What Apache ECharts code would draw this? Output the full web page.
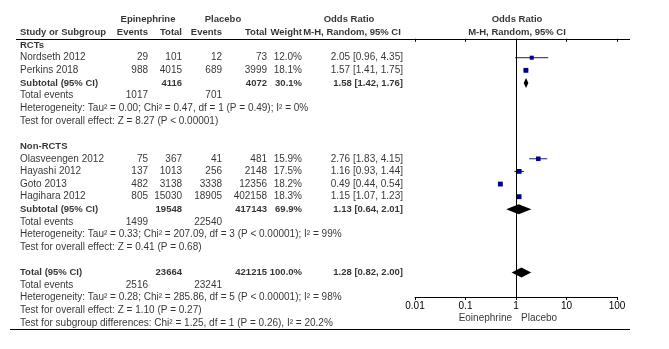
<!DOCTYPE html>
<html>
<head>
<meta charset="utf-8">
<script src="https://cdn.jsdelivr.net/npm/echarts@6/dist/echarts.min.js"></script>
<style>
  html, body { margin: 0; padding: 0; background: #fff; }
  #chart { width: 669px; height: 349px; }
</style>
</head>
<body>
<div id="chart"></div>
<script>
// Study data
const studies = ['Nordseth 2012', 'Perkins 2018', 'Olasveengen 2012', 'Hayashi 2012', 'Goto 2013', 'Hagihara 2012'];
const studyGroup = [0, 0, 1, 1, 1, 1];
const epiEvents = [29, 988, 75, 137, 482, 805];
const epiTotal = [101, 4015, 367, 1013, 3138, 15030];
const plaEvents = [12, 689, 41, 256, 3338, 18905];
const plaTotal = [73, 3999, 481, 2148, 12356, 402158];
const weights = [12.0, 18.1, 15.9, 17.5, 18.2, 18.3];
const orEst = [2.05, 1.57, 2.76, 1.16, 0.49, 1.15];
const orLow = [0.96, 1.41, 1.83, 0.93, 0.44, 1.07];
const orHigh = [4.35, 1.75, 4.15, 1.44, 0.54, 1.23];

// Subgroups
const groups = ['RCTs', 'Non-RCTS'];
const groupEpiTotal = [4116, 19548];
const groupPlaTotal = [4072, 417143];
const groupWeight = [30.1, 69.9];
const groupEst = [1.58, 1.13];
const groupLow = [1.42, 0.64];
const groupHigh = [1.76, 2.01];
const groupEpiEvents = [1017, 1499];
const groupPlaEvents = [701, 22540];
const groupHet = [
  'Heterogeneity: Tau² = 0.00; Chi² = 0.47, df = 1 (P = 0.49); I² = 0%',
  'Heterogeneity: Tau² = 0.33; Chi² = 207.09, df = 3 (P < 0.00001); I² = 99%'
];
const groupTest = [
  'Test for overall effect: Z = 8.27 (P < 0.00001)',
  'Test for overall effect: Z = 0.41 (P = 0.68)'
];

// Overall
const totalEpi = 23664;
const totalPla = 421215;
const totalWeight = 100.0;
const totalEst = 1.28, totalLow = 0.82, totalHigh = 2.00;
const totalEpiEvents = 2516;
const totalPlaEvents = 23241;
const totalHet = 'Heterogeneity: Tau² = 0.28; Chi² = 285.86, df = 5 (P < 0.00001); I² = 98%';
const totalTest = 'Test for overall effect: Z = 1.10 (P = 0.27)';
const subgroupTest = 'Test for subgroup differences: Chi² = 1.25, df = 1 (P = 0.26), I² = 20.2%';

// Axis ticks
const axisTicks = [0.01, 0.1, 1, 10, 100];
const favourLabels = ['Eoinephrine', 'Placebo'];

// Layout
const ROWS = 25;
const ROW_H = 12.633;
const TOP = 13.5;
const AXIS_Y = 297;
const COL = { name: 20, e1: 148, t1: 182, e2: 222, t2: 267, w: 302, or: 403, orHead: 352, plot: 517 };
const FONT = 'Liberation Sans, Arial, sans-serif';
const FS = 10;      // regular text
const FS_B = 9.5;   // bold text

const cells = [];
function cell(x, row, text, align, bold) {
  cells.push({
    value: [x, row, String(text)],
    label: { align: align, fontWeight: bold ? 'bold' : 'normal', fontSize: bold ? FS_B : FS }
  });
}
const fmtOR = (e, l, h) => `${e.toFixed(2)} [${l.toFixed(2)}, ${h.toFixed(2)}]`;

// Header
cell(COL.e1, 0, 'Epinephrine', 'center', true);
cell(COL.e2 + 1, 0, 'Placebo', 'center', true);
cell(COL.orHead - 3, 0, 'Odds Ratio', 'center', true);
cell(COL.plot, 0, 'Odds Ratio', 'center', true);
cell(COL.name, 1, 'Study or Subgroup', 'left', true);
cell(COL.e1, 1, 'Events', 'right', true);
cell(COL.t1, 1, 'Total', 'right', true);
cell(COL.e2, 1, 'Events', 'right', true);
cell(COL.t2, 1, 'Total', 'right', true);
cell(COL.w, 1, 'Weight', 'right', true);
cell(COL.orHead, 1, 'M-H, Random, 95% CI', 'center', true);
cell(COL.plot, 1, 'M-H, Random, 95% CI', 'center', true);

const studyMarks = [];
const diamonds = [];
let r = 2;
groups.forEach((g, gi) => {
  cell(COL.name, r, g, 'left', true); r++;
  studies.forEach((s, i) => {
    if (studyGroup[i] !== gi) return;
    cell(COL.name, r, s, 'left', false);
    cell(COL.e1, r, epiEvents[i], 'right', false);
    cell(COL.t1, r, epiTotal[i], 'right', false);
    cell(COL.e2, r, plaEvents[i], 'right', false);
    cell(COL.t2, r, plaTotal[i], 'right', false);
    cell(COL.w, r, weights[i].toFixed(1) + '%', 'right', false);
    cell(COL.or, r, fmtOR(orEst[i], orLow[i], orHigh[i]), 'right', false);
    studyMarks.push([orEst[i], orLow[i], orHigh[i], r, weights[i]]);
    r++;
  });
  cell(COL.name, r, 'Subtotal (95% CI)', 'left', true);
  cell(COL.t1, r, groupEpiTotal[gi], 'right', true);
  cell(COL.t2, r, groupPlaTotal[gi], 'right', true);
  cell(COL.w, r, groupWeight[gi].toFixed(1) + '%', 'right', true);
  cell(COL.or, r, fmtOR(groupEst[gi], groupLow[gi], groupHigh[gi]), 'right', true);
  diamonds.push([groupEst[gi], groupLow[gi], groupHigh[gi], r]);
  r++;
  cell(COL.name, r, 'Total events', 'left', false);
  cell(COL.e1, r, groupEpiEvents[gi], 'right', false);
  cell(COL.e2, r, groupPlaEvents[gi], 'right', false);
  r++;
  cell(COL.name, r, groupHet[gi], 'left', false); r++;
  cell(COL.name, r, groupTest[gi], 'left', false); r++;
  r++;
});
cell(COL.name, r, 'Total (95% CI)', 'left', true);
cell(COL.t1, r, totalEpi, 'right', true);
cell(COL.t2, r, totalPla, 'right', true);
cell(COL.w, r, totalWeight.toFixed(1) + '%', 'right', true);
cell(COL.or, r, fmtOR(totalEst, totalLow, totalHigh), 'right', true);
diamonds.push([totalEst, totalLow, totalHigh, r]);
r++;
cell(COL.name, r, 'Total events', 'left', false);
cell(COL.e1, r, totalEpiEvents, 'right', false);
cell(COL.e2, r, totalPlaEvents, 'right', false);
r++;
cell(COL.name, r, totalHet, 'left', false); r++;
cell(COL.name, r, totalTest, 'left', false); r++;
cell(COL.name, r, subgroupTest, 'left', false); r++;
// favours labels under the axis
cell(COL.plot - 5, r - 1.4, favourLabels[0], 'right', false);
cell(COL.plot + 4, r - 1.4, favourLabels[1], 'left', false);

const plotTop = TOP + 2 * ROW_H;
const plotH = AXIS_Y - plotTop;
const plotMaxRow = 1.5 + plotH / ROW_H;

const chart = echarts.init(document.getElementById('chart'), null, { renderer: 'canvas' });

chart.setOption({
  animation: false,
  backgroundColor: '#fff',
  textStyle: { fontFamily: FONT },
  grid: [
    { left: 0, top: TOP, width: 669, height: ROWS * ROW_H },
    { left: 415, top: plotTop, width: 202, height: plotH }
  ],
  xAxis: [
    { gridIndex: 0, type: 'value', min: 0, max: 669, show: false },
    {
      gridIndex: 1, type: 'log', logBase: 10, min: axisTicks[0], max: axisTicks[axisTicks.length - 1],
      axisLine: { show: true, lineStyle: { color: '#000', width: 1 } },
      axisTick: { show: true, length: 3, lineStyle: { color: '#000' } },
      axisLabel: { show: true, color: '#000', fontSize: FS, fontFamily: FONT, margin: 4 },
      splitLine: { show: false },
      minorTick: { show: false }
    },
    {
      gridIndex: 1, type: 'log', logBase: 10, min: axisTicks[0], max: axisTicks[axisTicks.length - 1],
      axisLine: { show: false },
      axisTick: { show: true, inside: true, length: 3, lineStyle: { color: '#000' } },
      axisLabel: { show: false },
      splitLine: { show: false }
    }
  ],
  yAxis: [
    { gridIndex: 0, type: 'value', min: -0.5, max: ROWS - 0.5, inverse: true, show: false },
    { gridIndex: 1, type: 'value', min: 1.5, max: plotMaxRow, inverse: true, show: false }
  ],
  series: [
    {
      type: 'scatter',
      xAxisIndex: 0, yAxisIndex: 0,
      symbolSize: 0,
      silent: true,
      data: cells,
      label: {
        show: true,
        position: 'inside',
        formatter: (p) => p.value[2],
        color: '#000',
        fontSize: FS,
        fontFamily: FONT
      },
      markLine: {
        silent: true,
        symbol: 'none',
        label: { show: false },
        lineStyle: { color: '#000', width: 1, type: 'solid' },
        data: [
          [{ coord: [16, 1.5] }, { coord: [630, 1.5] }],
          [{ coord: [10, ROWS - 0.5] }, { coord: [630, ROWS - 0.5] }]
        ]
      }
    },
    {
      // study confidence intervals and weighted squares
      type: 'custom',
      xAxisIndex: 1, yAxisIndex: 1,
      silent: true,
      data: studyMarks,
      renderItem: (params, api) => {
        const est = api.value(0), lo = api.value(1), hi = api.value(2), row = api.value(3), w = api.value(4);
        const pLo = api.coord([lo, row]);
        const pHi = api.coord([hi, row]);
        const pE = api.coord([est, row]);
        const s = 2.5 + w * 0.13;
        return {
          type: 'group',
          children: [
            { type: 'line', shape: { x1: pLo[0], y1: pLo[1], x2: pHi[0], y2: pHi[1] }, style: { stroke: '#1c1c6e', lineWidth: 1 } },
            { type: 'rect', shape: { x: pE[0] - s / 2, y: pE[1] - s / 2, width: s, height: s }, style: { fill: '#00008b' } }
          ]
        };
      },
      markLine: {
        silent: true,
        symbol: 'none',
        label: { show: false },
        lineStyle: { color: '#000', width: 1, type: 'solid' },
        data: [{ xAxis: 1 }]
      }
    },
    {
      // pooled diamonds
      type: 'custom',
      xAxisIndex: 1, yAxisIndex: 1,
      silent: true,
      data: diamonds,
      renderItem: (params, api) => {
        const est = api.value(0), lo = api.value(1), hi = api.value(2), row = api.value(3);
        const pLo = api.coord([lo, row]);
        const pHi = api.coord([hi, row]);
        const pE = api.coord([est, row]);
        const h = 5;
        return {
          type: 'polygon',
          shape: { points: [[pLo[0], pLo[1]], [pE[0], pE[1] - h], [pHi[0], pHi[1]], [pE[0], pE[1] + h]] },
          style: { fill: '#000' }
        };
      }
    }
  ]
});
</script>
</body>
</html>
